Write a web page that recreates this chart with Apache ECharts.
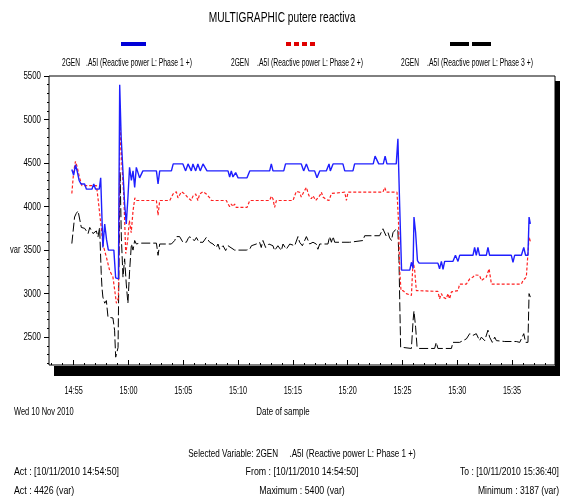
<!DOCTYPE html>
<html>
<head>
<meta charset="utf-8">
<script src="https://cdn.jsdelivr.net/npm/echarts@6/dist/echarts.min.js"></script>
<style>
  html, body { margin: 0; padding: 0; background: #fff; }
  #chart { width: 564px; height: 502px; }
</style>
</head>
<body>
<div id="chart"></div>
<script>
var FONT = "'Liberation Sans', Arial, sans-serif";
var SX = 0.68; // the original uses a very condensed screen font

// axis ticks
var xTickLabels = ['14:55', '15:00', '15:05', '15:10', '15:15', '15:20', '15:25', '15:30', '15:35'];
var xMinorTicks = ['14:53', '14:54', '14:56', '14:57', '14:58', '14:59', '15:01', '15:02', '15:03', '15:04',
    '15:06', '15:07', '15:08', '15:09', '15:11', '15:12', '15:13', '15:14', '15:16', '15:17', '15:18', '15:19',
    '15:21', '15:22', '15:23', '15:24', '15:26', '15:27', '15:28', '15:29', '15:31', '15:32', '15:33', '15:34',
    '15:36', '15:37', '15:38'];
var yTickLabels = [2500, 3000, 3500, 4000, 4500, 5000, 5500];
var yMinorTicks = [2200, 2300, 2400, 2600, 2700, 2800, 2900, 3100, 3200, 3300, 3400, 3600, 3700, 3800, 3900,
    4100, 4200, 4300, 4400, 4600, 4700, 4800, 4900, 5100, 5200, 5300, 5400];

// Phase 1 (blue)
var phase1Times = ['14:54:50', '14:55:00', '14:55:10', '14:55:20', '14:55:30', '14:55:40', '14:56:00', '14:56:10',
    '14:56:40', '14:56:50', '14:57:00', '14:57:20', '14:57:28', '14:57:35', '14:57:40', '14:57:50', '14:58:00',
    '14:58:10', '14:58:40', '14:58:50', '14:59:05', '14:59:12', '14:59:20', '14:59:39', '14:59:48', '14:59:57',
    '15:00:06', '15:00:16', '15:00:25', '15:00:34', '15:00:43', '15:01:01', '15:01:19', '15:02:33', '15:02:42',
    '15:02:51', '15:03:55', '15:04:05', '15:04:58', '15:05:13', '15:05:26', '15:05:44', '15:05:53', '15:06:08',
    '15:06:20', '15:06:33', '15:06:48', '15:06:57', '15:07:10', '15:09:05', '15:09:14', '15:09:23', '15:09:32',
    '15:09:47', '15:10:00', '15:10:49', '15:11:04', '15:12:53', '15:13:02', '15:13:11', '15:14:10', '15:14:20',
    '15:15:46', '15:15:59', '15:16:14', '15:16:28', '15:16:59', '15:17:12', '15:17:27', '15:18:03', '15:18:18',
    '15:18:25', '15:18:40', '15:19:34', '15:19:44', '15:20:29', '15:20:38', '15:22:20', '15:22:30', '15:22:40',
    '15:22:50', '15:23:15', '15:23:25', '15:23:35', '15:24:26', '15:24:35', '15:24:45', '15:24:55', '15:25:40',
    '15:25:49', '15:25:58', '15:26:03', '15:26:12', '15:26:22', '15:26:31', '15:28:14', '15:28:23', '15:28:33',
    '15:28:42', '15:28:51', '15:29:36', '15:29:50', '15:30:04', '15:30:13', '15:31:26', '15:31:35', '15:31:44',
    '15:31:53', '15:32:02', '15:32:39', '15:32:48', '15:32:57', '15:34:56', '15:35:05', '15:35:14', '15:35:51',
    '15:36:04', '15:36:14', '15:36:27', '15:36:33', '15:36:40'];
var phase1Values = [4426, 4360, 4480, 4400, 4300, 4260, 4260, 4200,
    4200, 4260, 4200, 4200, 4330, 4330, 3530, 3800, 3620,
    3500, 3500, 3180, 3170, 5400, 4800, 4030, 3800, 4100,
    4450, 4300, 4410, 4220, 4450, 4330, 4410, 4410, 4260,
    4410, 4410, 4490, 4490, 4410, 4490, 4410, 4490, 4410,
    4490, 4410, 4490, 4490, 4410, 4410, 4340, 4410, 4340,
    4390, 4330, 4330, 4410, 4410, 4490, 4410, 4410, 4490,
    4490, 4410, 4490, 4410, 4410, 4330, 4410, 4410, 4490,
    4410, 4490, 4490, 4410, 4410, 4490, 4490, 4580, 4580,
    4490, 4490, 4580, 4490, 4490, 4780, 3990, 3270, 3270,
    3360, 3290, 3880, 3700, 3380, 3350, 3350, 3285, 3370,
    3280, 3370, 3370, 3440, 3370, 3440, 3440, 3530, 3440,
    3530, 3440, 3440, 3530, 3440, 3440, 3360, 3440, 3440,
    3530, 3440, 3440, 3880, 3800];

// Phase 2 (red)
var phase2Times = ['14:54:50', '14:55:00', '14:55:10', '14:55:20', '14:55:30', '14:55:45', '14:57:05', '14:57:13',
    '14:57:31', '14:57:40', '14:57:59', '14:58:17', '14:58:35', '14:58:45', '14:58:54', '14:59:05', '14:59:14',
    '14:59:25', '14:59:35', '14:59:45', '14:59:55', '15:00:05', '15:00:15', '15:00:25', '15:00:35', '15:00:45',
    '15:02:33', '15:02:42', '15:02:51', '15:03:46', '15:04:04', '15:04:22', '15:04:31', '15:04:50', '15:05:08',
    '15:05:26', '15:05:35', '15:05:44', '15:05:53', '15:06:08', '15:06:20', '15:06:30', '15:06:48', '15:07:06',
    '15:07:25', '15:07:34', '15:08:56', '15:09:05', '15:09:14', '15:09:23', '15:09:32', '15:09:41', '15:09:50',
    '15:10:49', '15:11:04', '15:12:53', '15:13:02', '15:13:11', '15:13:20', '15:13:30', '15:15:01', '15:15:10',
    '15:15:19', '15:15:37', '15:15:46', '15:15:59', '15:16:14', '15:16:28', '15:16:41', '15:16:50', '15:17:05',
    '15:17:17', '15:17:27', '15:17:36', '15:17:45', '15:18:03', '15:18:18', '15:18:31', '15:18:40', '15:19:44',
    '15:19:53', '15:20:02', '15:23:13', '15:23:23', '15:23:32', '15:24:30', '15:24:38', '15:24:45', '15:24:52',
    '15:25:03', '15:25:21', '15:25:30', '15:25:49', '15:25:58', '15:26:07', '15:26:16', '15:26:25', '15:28:14',
    '15:28:23', '15:28:33', '15:28:42', '15:29:00', '15:29:09', '15:29:18', '15:29:28', '15:30:04', '15:30:13',
    '15:30:50', '15:31:08', '15:31:26', '15:31:35', '15:32:02', '15:32:12', '15:32:39', '15:32:54', '15:33:07',
    '15:35:51', '15:36:00', '15:36:18', '15:36:27', '15:36:33', '15:36:40'];
var phase2Values = [4150, 4400, 4520, 4450, 4350, 4240, 4240, 4100,
    3760, 3570, 3420, 3265, 3190, 3035, 2890, 2950, 4950,
    4450, 4100, 3460, 3600, 3840, 3700, 3950, 4100, 4070,
    4070, 3900, 4070, 4070, 4145, 4170, 4100, 4170, 4145,
    4100, 4120, 4070, 4120, 4145, 4070, 4145, 4170, 4145,
    4100, 4070, 4070, 4030, 4000, 4030, 4000, 4030, 3990,
    3990, 4070, 4070, 4120, 4090, 3990, 4070, 4070, 4125,
    4175, 4165, 4110, 4165, 4220, 4125, 4090, 4125, 4070,
    4100, 4125, 4165, 4110, 4080, 4070, 4150, 4165, 4165,
    4070, 4165, 4165, 4220, 4165, 4165, 3840, 3265, 3035,
    3035, 3000, 2980, 2980, 3380, 3265, 3035, 3025, 3025,
    2940, 3000, 2960, 2940, 3000, 2940, 3020, 3035, 3110,
    3110, 3170, 3190, 3215, 3210, 3150, 3190, 3285, 3110,
    3110, 3150, 3190, 3210, 3650, 3600];

// Phase 3 (black)
var phase3Times = ['14:54:50', '14:55:05', '14:55:14', '14:55:24', '14:55:42', '14:56:00', '14:56:19', '14:56:28',
    '14:56:46', '14:57:04', '14:57:13', '14:57:22', '14:57:31', '14:57:35', '14:57:40', '14:57:50', '14:57:59',
    '14:58:08', '14:58:35', '14:58:44', '14:58:50', '14:58:57', '14:59:03', '14:59:14', '14:59:21', '14:59:30',
    '14:59:39', '14:59:48', '14:59:57', '15:00:06', '15:00:16', '15:00:25', '15:00:34', '15:00:43', '15:01:01',
    '15:02:33', '15:02:42', '15:02:51', '15:03:55', '15:04:13', '15:04:22', '15:04:40', '15:04:58', '15:05:17',
    '15:05:26', '15:05:35', '15:05:44', '15:05:53', '15:06:02', '15:06:12', '15:06:26', '15:06:48', '15:07:06',
    '15:07:15', '15:07:25', '15:07:43', '15:08:01', '15:08:10', '15:08:19', '15:08:38', '15:08:52', '15:09:05',
    '15:09:14', '15:09:41', '15:10:45', '15:11:04', '15:11:13', '15:11:22', '15:11:40', '15:11:58', '15:12:07',
    '15:12:16', '15:12:31', '15:12:49', '15:13:11', '15:13:20', '15:13:38', '15:13:57', '15:14:06', '15:14:15',
    '15:14:24', '15:14:43', '15:15:10', '15:15:28', '15:15:37', '15:15:52', '15:16:14', '15:16:32', '15:16:50',
    '15:17:08', '15:17:17', '15:17:27', '15:18:12', '15:18:21', '15:18:31', '15:18:40', '15:18:49', '15:20:11',
    '15:21:24', '15:21:33', '15:22:55', '15:23:13', '15:23:23', '15:23:30', '15:23:41', '15:23:50', '15:24:00',
    '15:24:08', '15:24:26', '15:24:35', '15:24:41', '15:24:45', '15:24:50', '15:25:49', '15:25:58', '15:26:03',
    '15:26:12', '15:26:20', '15:26:31', '15:27:56', '15:28:05', '15:28:14', '15:29:28', '15:29:36', '15:30:13',
    '15:30:31', '15:30:50', '15:31:08', '15:31:26', '15:31:44', '15:32:02', '15:32:12', '15:32:30', '15:32:48',
    '15:32:57', '15:33:12', '15:33:25', '15:33:34', '15:34:20', '15:35:23', '15:35:42', '15:35:51', '15:36:04',
    '15:36:14', '15:36:27', '15:36:33', '15:36:40'];
var phase3Values = [3575, 3880, 3920, 3950, 3760, 3750, 3690, 3760,
    3690, 3720, 3650, 3760, 3230, 3070, 2960, 2890, 2920,
    2730, 2720, 2580, 2270, 2260, 2380, 4400, 3650, 3190,
    3400, 3110, 2890, 3250, 3570, 3500, 3610, 3570, 3580,
    3580, 3440, 3570, 3570, 3610, 3655, 3655, 3590, 3590,
    3630, 3655, 3630, 3645, 3610, 3645, 3590, 3590, 3645,
    3630, 3590, 3570, 3530, 3570, 3510, 3550, 3495, 3550,
    3550, 3500, 3500, 3510, 3550, 3570, 3570, 3590, 3530,
    3610, 3530, 3570, 3550, 3495, 3550, 3495, 3570, 3550,
    3510, 3570, 3550, 3655, 3590, 3550, 3655, 3570, 3590,
    3570, 3510, 3570, 3570, 3655, 3590, 3655, 3590, 3590,
    3610, 3665, 3665, 3745, 3760, 3665, 3700, 3640, 3610,
    3700, 3745, 3720, 3380, 2920, 2385, 2370, 2690, 2800,
    2615, 2385, 2370, 2370, 2440, 2370, 2370, 2440, 2440,
    2460, 2480, 2540, 2520, 2540, 2460, 2500, 2460, 2580,
    2500, 2440, 2500, 2460, 2450, 2450, 2440, 2460, 2540,
    2440, 2440, 3000, 2960];

function toSec(s) {
    var p = s.split(':');
    return (+p[0]) * 3600 + (+p[1]) * 60 + (p[2] ? +p[2] : 0);
}
function pairs(times, values) {
    var out = [];
    for (var i = 0; i < times.length; i++) out.push([toSec(times[i]), values[i]]);
    return out;
}
// condensed text: drawn at its anchor, squeezed horizontally around it
function txt(x, y, s, align, size, sx) {
    return {
        type: 'text', x: x, y: y, scaleX: sx || SX, silent: true,
        style: {text: s, fill: '#000', font: (size || 11) + 'px ' + FONT, align: align || 'left', verticalAlign: 'middle'}
    };
}
function bar(x, y, w, h, color) {
    return {type: 'rect', silent: true, shape: {x: x, y: y, width: w, height: h}, style: {fill: color}};
}

var xMin = toSec('14:52:45'), xMax = toSec('15:38:55');
var yMin = 2180, yMax = 5500;

var staticGraphics = [
    // box shadow
    bar(54, 366, 506, 10, '#000'),
    bar(555, 81, 5, 295, '#000'),
    // title
    txt(282, 18, 'MULTIGRAPHIC putere reactiva', 'center', 15),
    // legend swatches
    bar(121, 42, 25, 4, '#0000d8'),
    bar(286, 42, 5, 4, '#e00000'), bar(294, 42, 5, 4, '#e00000'),
    bar(302, 42, 5, 4, '#e00000'), bar(310, 42, 5, 4, '#e00000'),
    bar(450, 42, 19, 4, '#000'), bar(472, 42, 19, 4, '#000'),
    // legend texts
    txt(62, 63, '2GEN', 'left', 11, 0.6), txt(86, 63, '.A5I (Reactive power L: Phase 1 +)', 'left', 11, 0.62),
    txt(231, 63, '2GEN', 'left', 11, 0.6), txt(257, 63, '.A5I (Reactive power L: Phase 2 +)', 'left', 11, 0.62),
    txt(401, 63, '2GEN', 'left', 11, 0.6), txt(427, 63, '.A5I (Reactive power L: Phase 3 +)', 'left', 11, 0.62),
    // axis names
    txt(10, 250, 'var'),
    txt(14, 412, 'Wed 10 Nov 2010'),
    txt(283, 412, 'Date of sample', 'center', 11, 0.72),
    // footer
    txt(302, 454, 'Selected Variable: 2GEN     .A5I (Reactive power L: Phase 1 +)', 'center', 11, 0.74),
    txt(14, 472, 'Act : [10/11/2010 14:54:50]', 'left', 11, 0.8),
    txt(302, 472, 'From : [10/11/2010 14:54:50]', 'center', 11, 0.8),
    txt(559, 472, 'To : [10/11/2010 15:36:40]', 'right', 11, 0.78),
    txt(14, 491, 'Act : 4426 (var)', 'left', 11, 0.8),
    txt(302, 491, 'Maximum : 5400 (var)', 'center', 11, 0.8),
    txt(559, 491, 'Minimum : 3187 (var)', 'right', 11, 0.78)
];

var myChart = echarts.init(document.getElementById('chart'));
var option = {
    animation: false,
    backgroundColor: '#fff',
    grid: {
        left: 49, right: 9, top: 76, bottom: 137,
        show: true, borderColor: '#000', borderWidth: 1, backgroundColor: '#fff'
    },
    xAxis: [
        {
            type: 'value', position: 'bottom', min: xMin, max: xMax,
            axisLine: {show: false}, splitLine: {show: false}, axisLabel: {show: false},
            axisTick: {show: true, inside: true, length: 5, lineStyle: {color: '#000'},
                customValues: xTickLabels.map(toSec)}
        },
        {
            type: 'value', position: 'bottom', min: xMin, max: xMax,
            axisLine: {show: false}, splitLine: {show: false}, axisLabel: {show: false},
            axisTick: {show: true, inside: true, length: 2, lineStyle: {color: '#000'},
                customValues: xMinorTicks.map(toSec)}
        }
    ],
    yAxis: [
        {
            type: 'value', position: 'left', min: yMin, max: yMax,
            axisLine: {show: false}, splitLine: {show: false}, axisLabel: {show: false},
            axisTick: {show: true, length: 5, lineStyle: {color: '#000'}, customValues: yTickLabels}
        },
        {
            type: 'value', position: 'left', min: yMin, max: yMax,
            axisLine: {show: false}, splitLine: {show: false}, axisLabel: {show: false},
            axisTick: {show: true, length: 2, lineStyle: {color: '#000'}, customValues: yMinorTicks}
        }
    ],
    series: [
        {
            name: 'Phase 1', type: 'line', showSymbol: false, xAxisIndex: 0, yAxisIndex: 0,
            data: pairs(phase1Times, phase1Values),
            lineStyle: {color: '#1f1fff', width: 1.4, type: 'solid'}, z: 4
        },
        {
            name: 'Phase 2', type: 'line', showSymbol: false, xAxisIndex: 0, yAxisIndex: 0,
            data: pairs(phase2Times, phase2Values),
            lineStyle: {color: '#ff2020', width: 1.2, type: [3, 2]}, z: 3
        },
        {
            name: 'Phase 3', type: 'line', showSymbol: false, xAxisIndex: 0, yAxisIndex: 0,
            data: pairs(phase3Times, phase3Values),
            lineStyle: {color: '#000', width: 1, type: [9, 3]}, z: 2
        }
    ],
    graphic: staticGraphics
};
myChart.setOption(option);

// tick labels in the condensed font, placed through the axes' own scales
var axisTexts = [];
xTickLabels.forEach(function (l) {
    var px = myChart.convertToPixel({xAxisIndex: 0}, toSec(l));
    axisTexts.push(txt(px, 391, l, 'center', 11, 0.66));
});
yTickLabels.forEach(function (v) {
    var py = myChart.convertToPixel({yAxisIndex: 0}, v);
    axisTexts.push(txt(41, py, String(v), 'right', 11, 0.72));
});
myChart.setOption({graphic: staticGraphics.concat(axisTexts)});
</script>
</body>
</html>
